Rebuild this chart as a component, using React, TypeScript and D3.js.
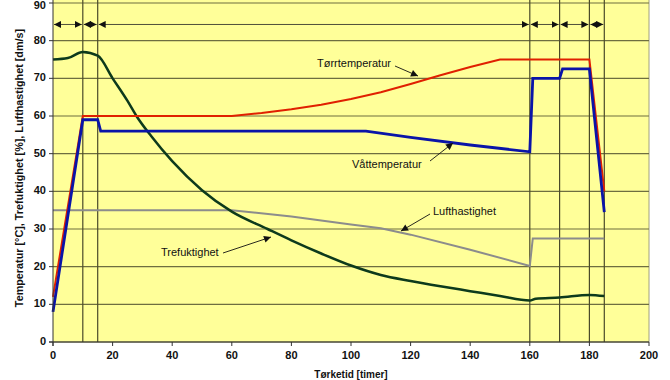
import React from "react";
import * as d3 from "d3";

const W = 670;
const H = 380;
const margin = { left: 53, right: 21, top: 3, bottom: 38 };

const xTicks = [0, 20, 40, 60, 80, 100, 120, 140, 160, 180, 200];
const yTicks = [0, 10, 20, 30, 40, 50, 60, 70, 80, 90];
const phaseLines = [10, 15, 160, 170, 180, 185];
const phaseBounds = [0, 10, 15, 160, 170, 180, 185];
const arrowLevel = 84.3;

const torrX = [0, 10, 60, 70, 80, 90, 100, 110, 120, 130, 140, 150, 180, 185];
const torrY = [12, 60, 60, 60.8, 61.8, 63, 64.5, 66.3, 68.5, 70.8, 73, 75, 75, 40];

const vattX = [0, 10, 15, 16, 105, 120, 140, 160, 161, 170, 171, 180, 185];
const vattY = [8, 59, 59, 56, 56, 54.3, 52.3, 50.5, 70, 70, 72.5, 72.5, 34.5];

const fuktX = [0, 5, 10, 15, 20, 25, 28, 33, 40, 50, 60, 72, 80, 90, 100, 110, 120, 130, 140, 150, 160, 162, 170, 180, 185];
const fuktY = [75, 75.4, 77, 76, 70, 64, 60, 54.6, 48, 40.3, 34.6, 30, 27, 23.5, 20.3, 17.8, 16.2, 14.8, 13.5, 12.2, 11, 11.5, 11.8, 12.5, 12.2];

const luftX = [0, 60, 80, 100, 110, 120, 140, 160, 161, 185];
const luftY = [35, 35, 33.3, 31.2, 30.2, 28.5, 24.5, 20.2, 27.5, 27.5];

export default function App() {
  const x = d3.scaleLinear().domain([0, 200]).range([margin.left, W - margin.right]);
  const y = d3.scaleLinear().domain([0, 90]).range([H - margin.bottom, margin.top]);

  const mk = (xs: number[], ys: number[], curve = d3.curveLinear) =>
    d3
      .line<number>()
      .x((_, i) => x(xs[i]))
      .y((_, i) => y(ys[i]))
      .curve(curve)(xs) as string;

  const plotL = x(0);
  const plotR = x(200);
  const plotT = y(90);
  const plotB = y(0);
  const font = "Arial, 'Liberation Sans', sans-serif";

  const ay = y(arrowLevel);
  const arrows: JSX.Element[] = [];
  for (let i = 0; i < phaseBounds.length - 1; i++) {
    const a = x(phaseBounds[i]) + 1;
    const b = x(phaseBounds[i + 1]) - 1;
    arrows.push(
      <line key={"al" + i} x1={a} x2={b} y1={ay} y2={ay} stroke="#222" strokeWidth={0.8} markerStart="url(#ahL)" markerEnd="url(#ahR)" />
    );
  }

  const annot = (tx: number, ty: number, text: string, x1: number, y1: number, x2: number, y2: number, anchor = "start") => (
    <g>
      <text x={tx} y={ty} fontFamily={font} fontSize={11} fill="#111" textAnchor={anchor} dominantBaseline="middle">
        {text}
      </text>
      <line x1={x1} y1={y1} x2={x2} y2={y2} stroke="#111" strokeWidth={0.9} markerEnd="url(#annArrow)" />
    </g>
  );

  return (
    <svg width={W} height={H} style={{ position: "absolute", left: 0, top: 0, display: "block" }}>
      <defs>
        <marker id="ahR" viewBox="0 0 10 10" refX={10} refY={5} markerWidth={7} markerHeight={7} markerUnits="userSpaceOnUse" orient="auto">
          <path d="M0,0 L10,5 L0,10 Z" fill="#111" />
        </marker>
        <marker id="ahL" viewBox="0 0 10 10" refX={0} refY={5} markerWidth={7} markerHeight={7} markerUnits="userSpaceOnUse" orient="auto">
          <path d="M10,0 L0,5 L10,10 Z" fill="#111" />
        </marker>
        <marker id="annArrow" viewBox="0 0 10 10" refX={10} refY={5} markerWidth={8} markerHeight={7} markerUnits="userSpaceOnUse" orient="auto">
          <path d="M0,0 L10,5 L0,10 Z" fill="#111" />
        </marker>
      </defs>
      <rect x={0} y={0} width={W} height={H} fill="#ffffff" />
      <rect x={plotL} y={0} width={plotR - plotL} height={plotB} fill="#ffff99" />
      <line x1={plotR} x2={plotR} y1={0} y2={plotB} stroke="#a0a080" strokeWidth={1} />
      {yTicks.map((t) => (
        <line key={"gy" + t} x1={plotL} x2={plotR} y1={y(t)} y2={y(t)} stroke="#6e6e40" strokeWidth={1.2} />
      ))}
      {phaseLines.map((t) => (
        <line key={"gx" + t} x1={x(t)} x2={x(t)} y1={0} y2={plotB} stroke="#4a4a2a" strokeWidth={1.2} />
      ))}
      {arrows}
      <path d={mk(luftX, luftY)} fill="none" stroke="#8c8c8c" strokeWidth={2} />
      <path d={mk(fuktX, fuktY, d3.curveMonotoneX)} fill="none" stroke="#0d3a1c" strokeWidth={2.5} />
      <path d={mk(torrX, torrY)} fill="none" stroke="#e02000" strokeWidth={2} />
      <path d={mk(vattX, vattY)} fill="none" stroke="#0a14a8" strokeWidth={2.8} />

      <line x1={plotL} x2={plotL} y1={0} y2={plotB + 4} stroke="#333" strokeWidth={1} />
      <line x1={plotL - 4} x2={plotR} y1={plotB} y2={plotB} stroke="#333" strokeWidth={1} />
      {yTicks.map((t) => (
        <g key={"yt" + t}>
          <line x1={plotL - 4} x2={plotL} y1={y(t)} y2={y(t)} stroke="#333" />
          <text x={plotL - 7} y={Math.max(y(t), 6)} fontFamily={font} fontSize={11} fontWeight="bold" textAnchor="end" dominantBaseline="middle" fill="#111">
            {t}
          </text>
        </g>
      ))}
      {xTicks.map((t) => (
        <g key={"xt" + t}>
          <line x1={x(t)} x2={x(t)} y1={plotB} y2={plotB + 4} stroke="#333" />
          <text x={x(t)} y={plotB + 14} fontFamily={font} fontSize={11} fontWeight="bold" textAnchor="middle" dominantBaseline="middle" fill="#111">
            {t}
          </text>
        </g>
      ))}
      <text x={(plotL + plotR) / 2} y={H - 2} fontFamily={font} fontSize={10} fontWeight="bold" textAnchor="middle" fill="#111">
        Tørketid [timer]
      </text>
      <text
        transform={`translate(20, 168) rotate(-90)`}
        fontFamily={font}
        fontSize={10.8}
        fontWeight="bold"
        textAnchor="middle"
        dominantBaseline="middle"
        fill="#111"
      >
        Temperatur [°C], Trefuktighet [%], Lufthastighet [dm/s]
      </text>

      {annot(317, 64, "Tørrtemperatur", 395, 66, 418, 76)}
      {annot(352, 165, "Våttemperatur", 430, 161, 453, 143)}
      {annot(433, 212, "Lufthastighet", 430, 214, 401, 231)}
      {annot(161, 253, "Trefuktighet", 223, 253, 271, 237)}
    </svg>
  );
}
